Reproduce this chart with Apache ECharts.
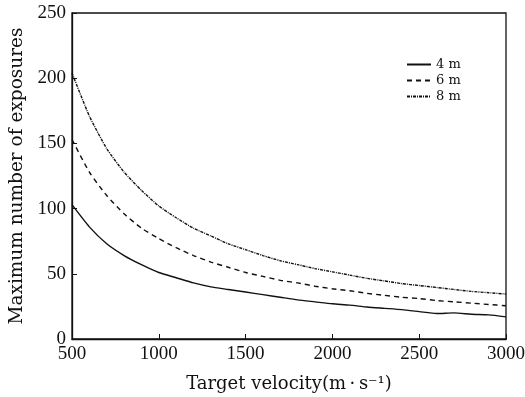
<!DOCTYPE html>
<html>
<head>
<meta charset="utf-8">
<script src="https://cdn.jsdelivr.net/npm/echarts@6/dist/echarts.min.js"></script>
<style>html,body{margin:0;padding:0;background:#fff}</style>
</head>
<body>
<div id="chart" style="width:525px;height:397px"></div>
<script>
// velocities (m/s)
const velocity = [500, 600, 700, 800, 900, 1000, 1100, 1200, 1300, 1400, 1500, 1600, 1700,
    1800, 1900, 2000, 2100, 2200, 2300, 2400, 2500, 2600, 2700, 2800, 2900, 3000];
const exp4m = [103, 86, 73, 64, 57, 51, 47, 43, 40, 38, 36, 34, 32,
    30, 28.5, 27, 26, 24.5, 23.5, 22.5, 21, 19.5, 20, 19, 18.5, 17];
const exp6m = [153, 128, 110, 96, 85, 77, 70, 64, 59, 55, 51, 48, 45,
    43, 40.5, 38.5, 37, 35, 33.5, 32, 31, 29.5, 28.5, 27.5, 26.5, 25.5];
const exp8m = [204, 171, 146, 128, 114, 102, 93, 85, 79, 73, 68.5, 64, 60,
    57, 54, 51.5, 49, 46.5, 44.5, 42.5, 41, 39.5, 38, 36.5, 35.5, 34.5];
const seriesNames = ['4 m', '6 m', '8 m'];

const tickFont = 'Liberation Serif';
const titleFont = 'DejaVu Serif';
const pair = (ys) => velocity.map((v, i) => [v, ys[i]]);

const option = {
    animation: false,
    grid: {
        left: 72, right: 19, top: 13, bottom: 58,
        outerBoundsMode: 'none', containLabel: false,
        show: true, borderColor: '#111', borderWidth: 1.3, backgroundColor: 'transparent'
    },
    legend: {
        orient: 'vertical',
        left: 401,
        top: 53,
        itemWidth: 24,
        itemHeight: 10,
        itemGap: 3,
        itemStyle: { opacity: 0 },
        textStyle: { fontFamily: titleFont, fontSize: 13, color: '#111' },
        data: seriesNames
    },
    xAxis: {
        type: 'value',
        min: 500, max: 3000, interval: 500,
        name: 'Target velocity(m\u2009\u00b7\u2009s\u207b\u00b9)',
        nameLocation: 'middle',
        nameGap: 36,
        nameTextStyle: { fontFamily: titleFont, fontSize: 18, color: '#111' },
        axisLine: { show: true, lineStyle: { color: '#111', width: 1.3 } },
        axisTick: { inside: true, length: 5, lineStyle: { color: '#111' } },
        axisLabel: { fontFamily: tickFont, fontSize: 19, color: '#111', margin: 6, formatter: v => String(v) },
        splitLine: { show: false }
    },
    yAxis: {
        type: 'value',
        min: 0, max: 250, interval: 50,
        name: 'Maximum number of exposures',
        nameLocation: 'middle',
        nameGap: 45,
        nameTextStyle: { fontFamily: titleFont, fontSize: 18.5, color: '#111' },
        axisLine: { show: true, lineStyle: { color: '#111', width: 1.3 } },
        axisTick: { inside: true, length: 5, lineStyle: { color: '#111' } },
        axisLabel: { fontFamily: tickFont, fontSize: 19, color: '#111', margin: 6 },
        splitLine: { show: false }
    },
    series: [
        { name: '4 m', type: 'line', data: pair(exp4m), symbol: 'none', smooth: 0.2,
          lineStyle: { color: '#111', width: 1.4, type: 'solid' }, itemStyle: { color: '#111' } },
        { name: '6 m', type: 'line', data: pair(exp6m), symbol: 'none', smooth: 0.2,
          lineStyle: { color: '#111', width: 1.4, type: [5, 4] }, itemStyle: { color: '#111' } },
        { name: '8 m', type: 'line', data: pair(exp8m), symbol: 'none', smooth: 0.2,
          lineStyle: { color: '#111', width: 1.4, type: [3, 1, 1, 1] }, itemStyle: { color: '#111' } }
    ]
};

const myChart = echarts.init(document.getElementById('chart'));
myChart.setOption(option);
</script>
</body>
</html>
